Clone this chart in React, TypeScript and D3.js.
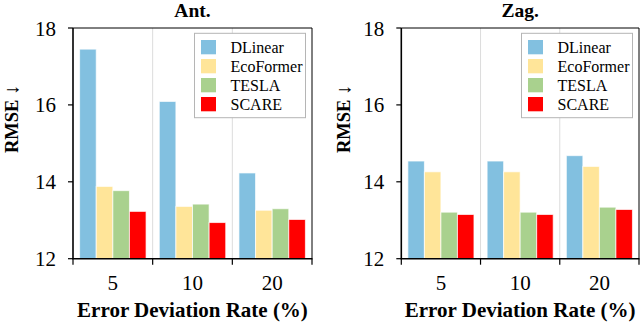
import React from "react";
import * as d3 from "d3";

const categories = ["5", "10", "20"];
const methods = ["DLinear", "EcoFormer", "TESLA", "SCARE"];
const methodColors = ["#82c0e0", "#ffe599", "#a9d18e", "#ff0000"];
const yTicks = [12, 14, 16, 18];

// Ant. panel, one array per method over the categories
const antDLinear = [17.45, 16.09, 14.23];
const antEcoFormer = [13.88, 13.36, 13.26];
const antTESLA = [13.77, 13.42, 13.3];
const antSCARE = [13.23, 12.94, 13.02];

// Zag. panel
const zagDLinear = [14.54, 14.54, 14.68];
const zagEcoFormer = [14.26, 14.26, 14.4];
const zagTESLA = [13.21, 13.21, 13.34];
const zagSCARE = [13.15, 13.15, 13.28];

const FONT = "'Liberation Serif', 'Times New Roman', serif";

type PanelProps = {
  title: string;
  series: number[][];
  left: number;
  right: number;
  ylabelX: number;
};

const Panel = ({ title, series, left, right, ylabelX }: PanelProps) => {
  const top = 28;
  const bottom = 258.7;

  const x = d3.scaleBand().domain(categories).range([left, right]).padding(0);
  const bw = x.bandwidth();
  const pad = bw * 0.083;
  const xInner = d3.scaleBand().domain(methods).range([pad, bw - pad]).padding(0);
  const y = d3.scaleLinear().domain([12, 18]).range([bottom, top]);

  const boundaries = [left, ...categories.map((c) => (x(c) ?? 0) + bw)];
  const cx = (left + right) / 2;

  const legendW = 111;
  const legendX = right - 6.5 - legendW;
  const legendY = 33.3;

  return (
    <g>
      {/* separators between groups */}
      {boundaries.slice(1, -1).map((b, i) => (
        <line key={i} x1={b} x2={b} y1={top} y2={bottom} stroke="#dcdcdc" strokeWidth={1} />
      ))}

      {/* bars */}
      {categories.map((c, ci) => (
        <g key={c} transform={`translate(${x(c)},0)`}>
          {methods.map((m, mi) => {
            const v = series[mi][ci];
            return (
              <rect
                key={m}
                x={xInner(m)}
                y={y(v)}
                width={xInner.bandwidth()}
                height={bottom - y(v)}
                fill={methodColors[mi]}
                stroke="#ffffff"
                strokeOpacity={0.7}
                strokeWidth={1}
              />
            );
          })}
        </g>
      ))}

      {/* frame */}
      <line x1={left} x2={right} y1={top} y2={top} stroke="#000" strokeWidth={1} />
      <line x1={right} x2={right} y1={top} y2={bottom} stroke="#000" strokeWidth={1} />
      <line x1={left} x2={left} y1={top} y2={bottom} stroke="#000" strokeWidth={1.6} />
      <line x1={left - 0.8} x2={right + 0.5} y1={bottom} y2={bottom} stroke="#000" strokeWidth={1.6} />

      {/* y ticks */}
      {yTicks.map((t) => (
        <g key={t}>
          <line x1={left - 5} x2={left} y1={y(t)} y2={y(t)} stroke="#000" strokeWidth={1.2} />
          <text
            x={left - 17}
            y={y(t)}
            dy="0.36em"
            textAnchor="end"
            fontFamily={FONT}
            fontSize={21}
            fill="#000"
          >
            {t}
          </text>
        </g>
      ))}

      {/* x ticks at group boundaries */}
      {boundaries.map((b, i) => (
        <line key={i} x1={b} x2={b} y1={bottom} y2={bottom + 6} stroke="#000" strokeWidth={1.2} />
      ))}
      {categories.map((c) => (
        <text
          key={c}
          x={(x(c) ?? 0) + bw / 2}
          y={289.5}
          textAnchor="middle"
          fontFamily={FONT}
          fontSize={21}
          fill="#000"
        >
          {c}
        </text>
      ))}

      {/* titles */}
      <text x={cx} y={17} textAnchor="middle" fontFamily={FONT} fontWeight="bold" fontSize={19.5} fill="#000">
        {title}
      </text>
      <text x={cx} y={316.5} textAnchor="middle" fontFamily={FONT} fontWeight="bold" fontSize={21} fill="#000">
        Error Deviation Rate (%)
      </text>
      <text
        transform={`translate(${ylabelX},119) rotate(-90)`}
        textAnchor="middle"
        fontFamily={FONT}
        fontWeight="bold"
        fontSize={18.5}
        fill="#000"
      >
        RMSE <tspan fontWeight="normal" fontSize={20}>↓</tspan>
      </text>

      {/* legend */}
      <rect x={legendX} y={legendY} width={legendW} height={84.4} fill="#fff" stroke="#b5b5b5" strokeWidth={1} />
      {methods.map((m, i) => (
        <g key={m} transform={`translate(${legendX + 6.5},${legendY + 6.7 + i * 19})`}>
          <rect width={15} height={14.3} fill={methodColors[i]} />
          <text x={29.5} y={7.2} dy="0.35em" fontFamily={FONT} fontSize={16} fill="#000">
            {m}
          </text>
        </g>
      ))}
    </g>
  );
};

export default function App() {
  return (
    <svg
      width={640}
      height={324}
      viewBox="0 0 640 324"
      style={{ position: "absolute", left: 0, top: 0, background: "#fff" }}
    >
      <Panel
        title="Ant."
        series={[antDLinear, antEcoFormer, antTESLA, antSCARE]}
        left={73}
        right={312}
        ylabelX={17.5}
      />
      <Panel
        title="Zag."
        series={[zagDLinear, zagEcoFormer, zagTESLA, zagSCARE]}
        left={401.3}
        right={639}
        ylabelX={350}
      />
    </svg>
  );
}
